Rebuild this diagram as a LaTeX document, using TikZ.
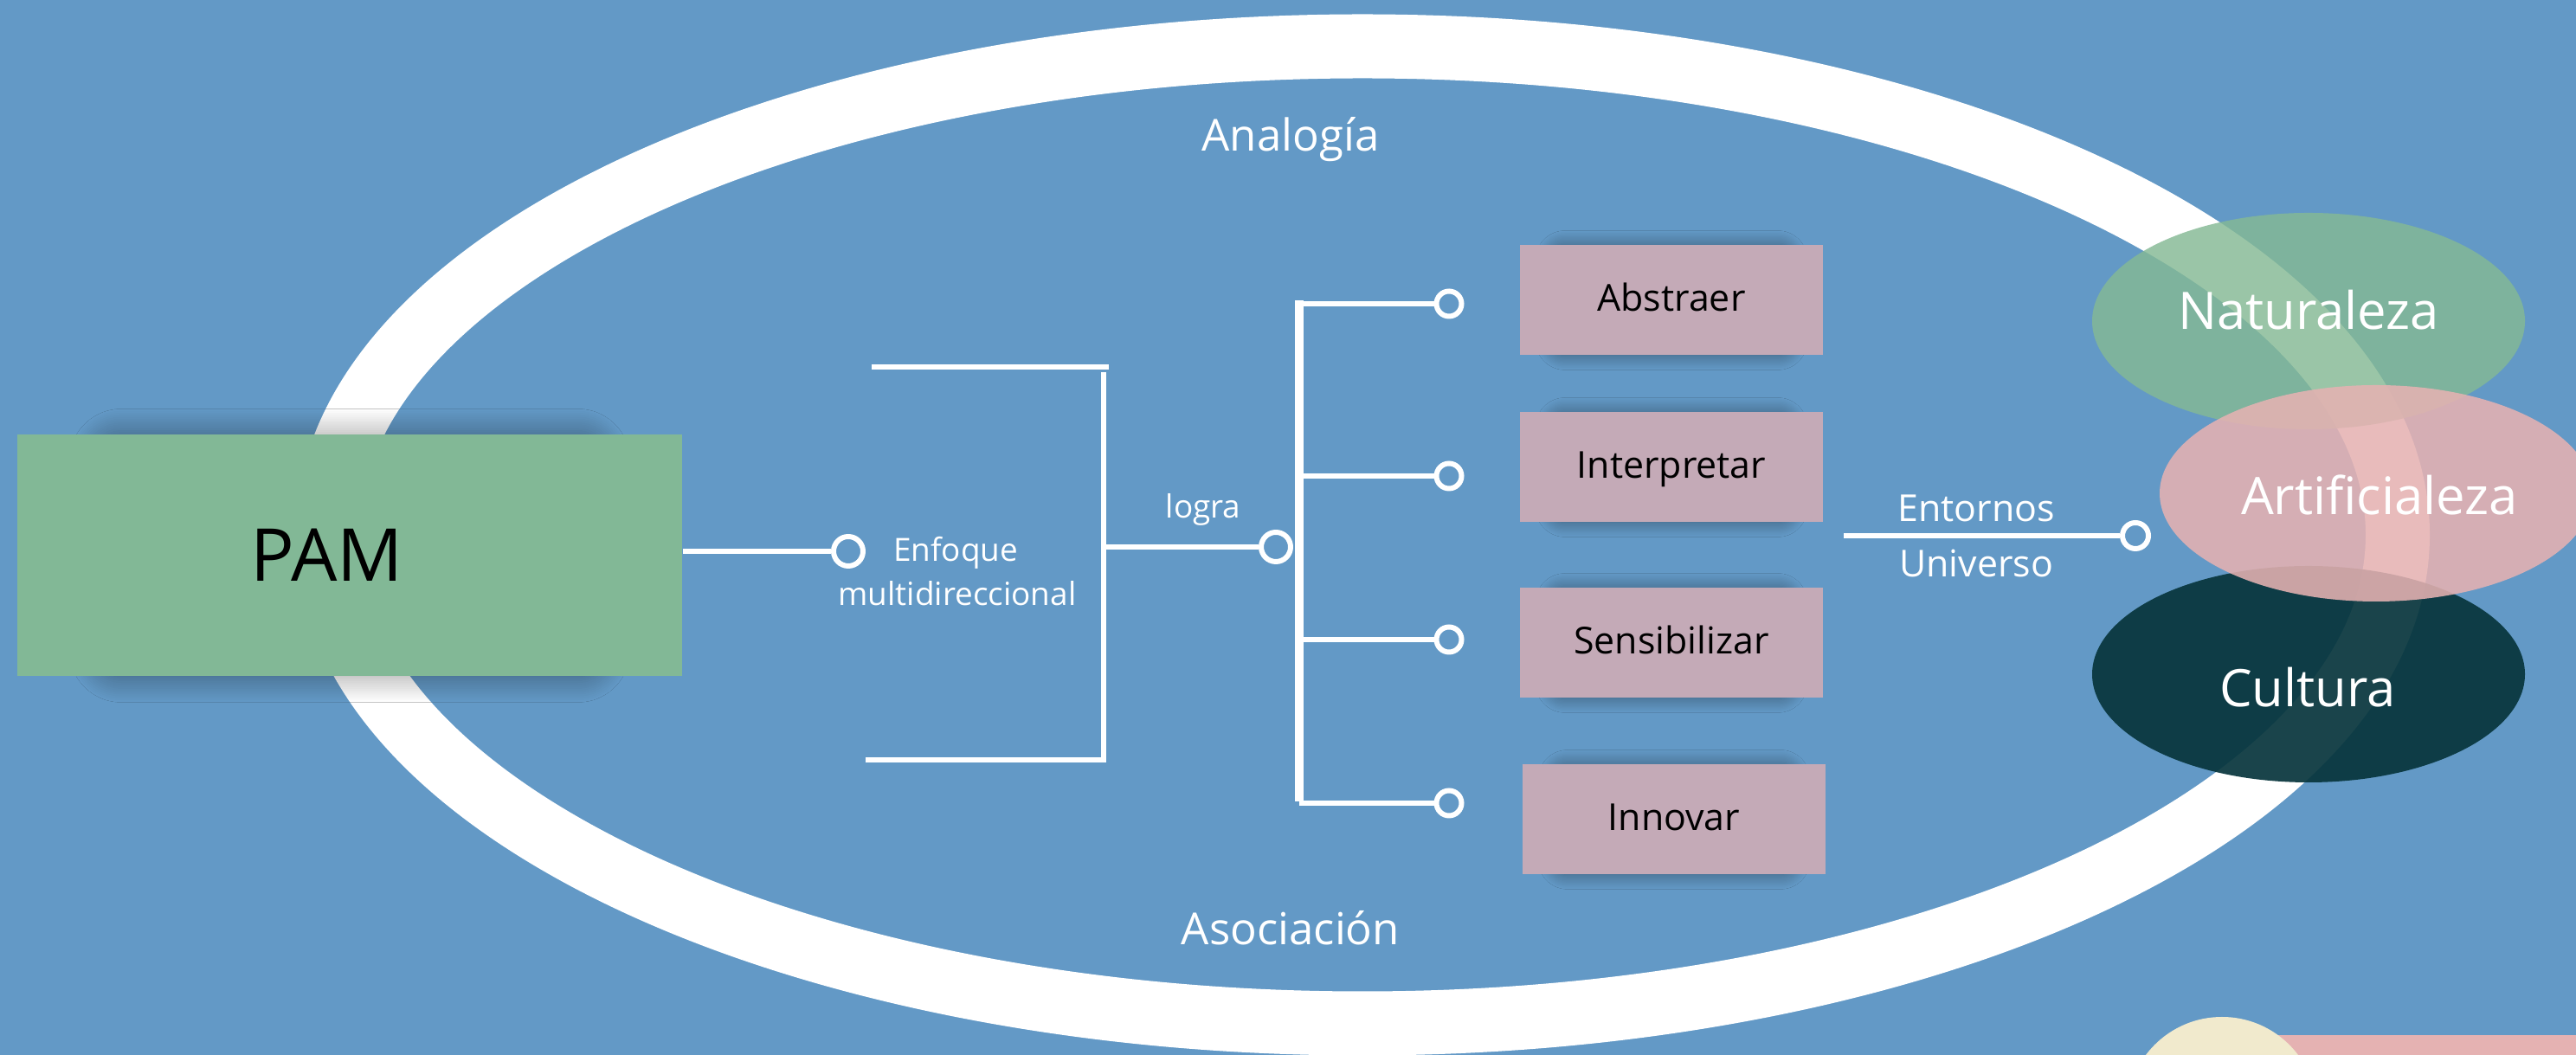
\documentclass[tikz,border=0pt]{standalone}
\usepackage{fontspec}
\setmainfont{Open Sans}
\usetikzlibrary{shapes.geometric,shadows.blur,positioning}

\definecolor{fondo}{HTML}{6399C6}
\definecolor{verde}{HTML}{82B896}
\definecolor{natverde}{HTML}{84B994}
\definecolor{malva}{HTML}{C4AAB7}
\definecolor{rosa}{HTML}{E5B2B2}
\definecolor{oscuro}{HTML}{07353C}
\definecolor{crema}{HTML}{F1EACD}

\tikzset{
  wire/.style={draw=white, line width=1.7pt},
  trunkline/.style={draw=white, line width=3.1pt},
  knob/.style={circle, draw=white, line width=1.7pt, inner sep=0pt, minimum size=#1},
  knob/.default=0.29cm,
  rotulo/.style={text=white, inner sep=0pt, anchor=base, font=\fontsize{10.5}{12}\selectfont},
  tarea/.style={rectangle, fill=malva, minimum width=3.5cm, minimum height=1.27cm,
    inner sep=0pt, text=black, text height=0.72em, text depth=0pt,
    font=\fontsize{12.2}{14}\selectfont},
  mundo/.style={ellipse, minimum width=5cm, minimum height=2.5cm, inner sep=0pt},
  mundotxt/.style={text=white, inner sep=0pt, anchor=base, font=\fontsize{17}{20}\selectfont},
  % sombra arriba y abajo de una caja
  softshade/.style={blur shadow={shadow xshift=0pt, shadow yshift=0pt,
    shadow blur radius=#1, shadow opacity=42, shadow blur steps=14,
    shadow blur extra rounding=#1}}
}

\begin{document}
\begin{tikzpicture}
    \useasboundingbox (0,0) rectangle (29.76,12.19);
    %Fondo y anillo
    \fill[fondo] (0,0) rectangle (29.76,12.19);
    \draw[white, line width=0.74cm] (15.74,6.01) ellipse [x radius=11.96, y radius=5.645];
    %Esquina
    \fill[rosa] (25.67,-0.2) rectangle (29.9,0.23);
    \fill[crema] (25.67,-0.66) circle (1.10);
    %PAM
    \path[softshade=0.3cm] (1.1,4.375) rectangle (6.98,7.165);
    \node[fill=verde, minimum width=7.68cm, minimum height=2.79cm, inner sep=0pt] (pam) at (4.04,5.77) {};
    \node[font=\fontsize{24}{28}\selectfont, inner sep=0pt] (pamtxt) at (3.78,5.78) {PAM};
    %Enfoque
    \node[knob=0.34cm] (enf) at (9.80,5.82) {};
    \draw[wire] (pam.east |- enf) -- (enf);
    \node[rotulo] (enfa) at (11.04,5.705) {Enfoque};
    \node[rotulo] (enfb) at (11.06,5.19) {multidireccional};
    %Llave
    \coordinate (lla) at (10.07,7.95);
    \coordinate (llb) at (12.81,7.95);
    \coordinate (llc) at (12.75,7.89);
    \coordinate (lld) at (12.75,3.41);
    \coordinate (lle) at (9.995,3.41);
    \draw[wire] (lla) -- (llb);
    \draw[wire] (llc) -- (lld) -- (lle);
    \node[knob=0.34cm] (logra) at (14.74,5.87) {};
    \draw[wire] (llc |- logra) -- (logra);
    \node[rotulo] (lograt) at (13.90,6.20) {logra};
    %Tronco
    \coordinate (ttop) at (15.01,8.72);
    \coordinate (tbot) at (15.01,2.93);
    \draw[trunkline] (ttop) -- (tbot);
    \foreach \n/\y in {a/8.68,b/6.69,c/4.80,d/2.91}{
        \node[knob] (k\n) at (16.74,\y) {};
        \draw[wire] (ttop |- k\n) -- (k\n);
    }
    %Tareas
    \foreach \b/\x/\y/\t in {abs/19.31/8.72/Abstraer, int/19.31/6.79/Interpretar,
                             sen/19.31/4.76/Sensibilizar, inn/19.34/2.72/Innovar}{
        \path[softshade=0.17cm] (\x-1.4,\y-0.635) rectangle (\x+1.4,\y+0.635);
        \node[tarea] (\b) at (\x,\y) {\t};
    }
    %Entornos
    \coordinate (ent) at (21.30,6.00);
    \node[knob=0.30cm] (entk) at (24.67,6.00) {};
    \draw[wire] (ent) -- (entk);
    \node[rotulo, font=\fontsize{12.2}{14}\selectfont] (entt) at (22.83,6.16) {Entornos};
    \node[rotulo, font=\fontsize{12.2}{14}\selectfont] (unit) at (22.83,5.52) {Universo};
    %Analogia y Asociacion
    \node[rotulo, font=\fontsize{14.5}{17}\selectfont] (ana) at (14.91,10.44) {Analogía};
    \node[rotulo, font=\fontsize{14.5}{17}\selectfont] (aso) at (14.91,1.27) {Asociación};
    %Mundos
    \node[mundo, fill=natverde, fill opacity=0.82] (nat) at (26.67,8.48) {};
    \node[mundo, fill=oscuro, fill opacity=0.92] (cul) at (26.67,4.40) {};
    \node[mundo, fill=rosa, fill opacity=0.88] (art) at (27.45,6.49) {};
    \node[mundotxt] (natt) at (26.67,8.38) {Naturaleza};
    \node[mundotxt] (artt) at (27.49,6.24) {Artificialeza};
    \node[mundotxt] (cult) at (26.66,4.02) {Cultura};
\end{tikzpicture}
\end{document}
